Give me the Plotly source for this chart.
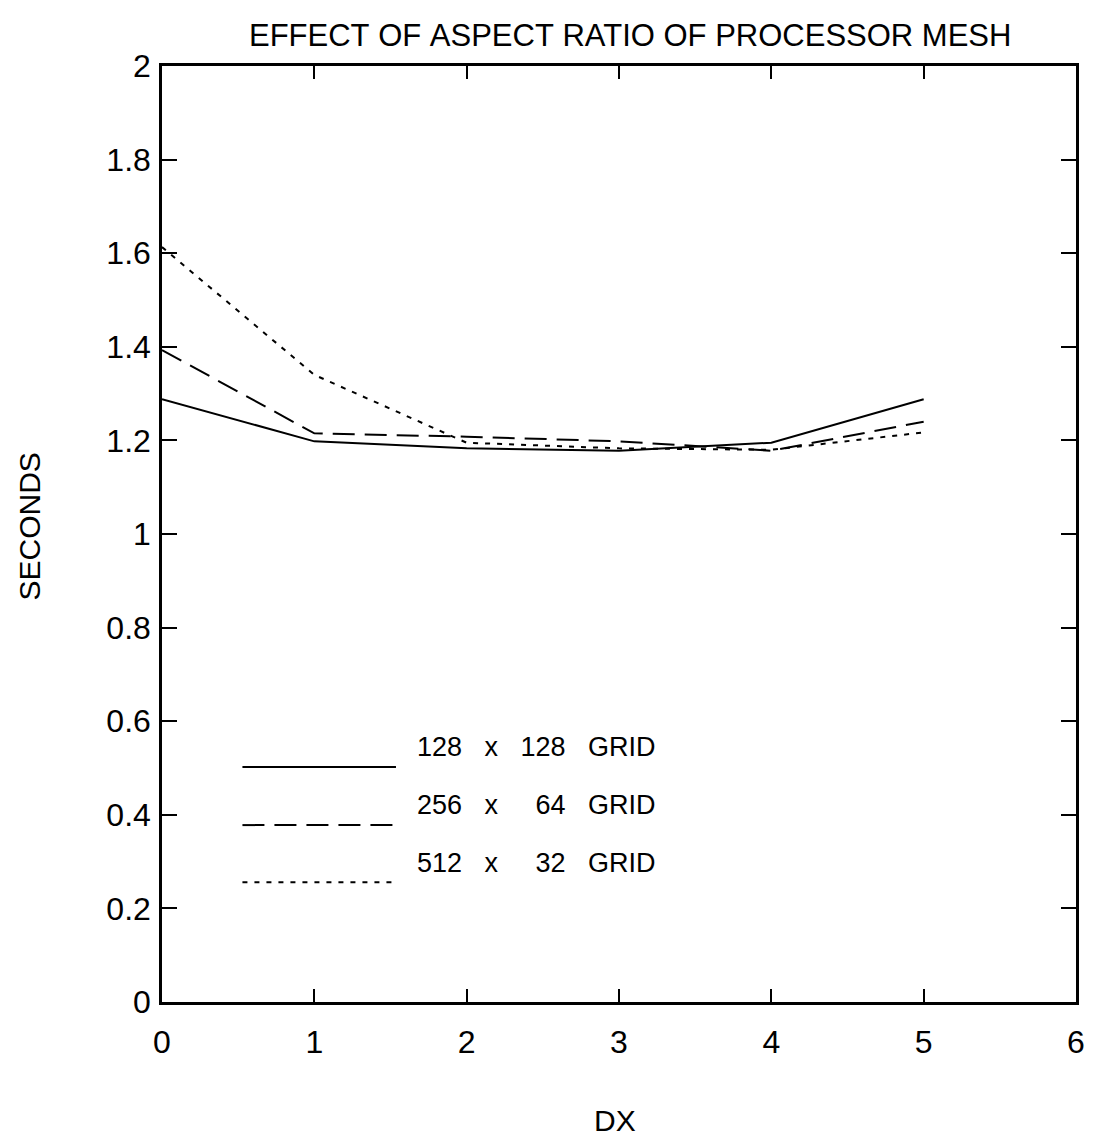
import plotly.graph_objects as go

dx = [0, 1, 2, 3, 4, 5]
grid_128x128 = [1.288, 1.198, 1.183, 1.178, 1.195, 1.288]
grid_256x64 = [1.393, 1.215, 1.208, 1.198, 1.178, 1.240]
grid_512x32 = [1.613, 1.340, 1.195, 1.183, 1.180, 1.217]

S = "\u00a0"
series_names = ["128" + S*3 + "x" + S*3 + "128" + S*3 + "GRID",
                "256" + S*3 + "x" + S*5 + "64" + S*3 + "GRID",
                "512" + S*3 + "x" + S*5 + "32" + S*3 + "GRID"]
series_values = [grid_128x128, grid_256x64, grid_512x32]
dashes = ["solid", "22px,10px", "5px,7px"]

x_ticks = [0, 1, 2, 3, 4, 5, 6]
y_ticks = [0, 0.2, 0.4, 0.6, 0.8, 1.0, 1.2, 1.4, 1.6, 1.8, 2.0]
y_tick_text = ["0", "0.2", "0.4", "0.6", "0.8", "1", "1.2", "1.4", "1.6", "1.8", "2"]

FONT = "Liberation Sans, Arial, sans-serif"

fig = go.Figure()
for name, vals, d in zip(series_names, series_values, dashes):
    fig.add_trace(go.Scatter(x=dx, y=vals, mode="lines", name=name,
                             line=dict(color="black", width=2, dash=d),
                             showlegend=False))

# custom legend (sample lines + labels) in paper coordinates
leg_x0, leg_x1, txt_x = 0.088, 0.256, 0.277
leg_line_y = [0.251, 0.189, 0.128]
leg_txt_y = [0.272, 0.210, 0.149]
shapes = []
annotations = []
for name, d, ly, ty in zip(series_names, dashes, leg_line_y, leg_txt_y):
    shapes.append(dict(type="line", xref="paper", yref="paper",
                       x0=leg_x0, x1=leg_x1, y0=ly, y1=ly,
                       line=dict(color="black", width=2, dash=d)))
    annotations.append(dict(xref="paper", yref="paper", x=txt_x, y=ty,
                            text=name, showarrow=False, xanchor="left",
                            yanchor="middle",
                            font=dict(family=FONT, size=27, color="black")))

title = S.join("EFFECT OF ASPECT RATIO OF PROCESSOR MESH".split(" "))
annotations.append(dict(xref="paper", yref="paper", x=0.512, y=1.0,
                        yshift=31, text=title,
                        showarrow=False, xanchor="center", yanchor="middle",
                        font=dict(family=FONT, size=31, color="black")))
annotations.append(dict(xref="paper", yref="paper", x=0.496, y=0.0,
                        yshift=-118, text="DX", showarrow=False,
                        xanchor="center", yanchor="middle",
                        font=dict(family=FONT, size=30, color="black")))
annotations.append(dict(xref="paper", yref="paper", x=0.0, y=0.508,
                        xshift=-132, text="SECONDS", showarrow=False,
                        textangle=-90, xanchor="center", yanchor="middle",
                        font=dict(family=FONT, size=30, color="black")))

fig.update_layout(
    width=1096, height=1139,
    margin=dict(l=162, r=11, t=66, b=137),
    paper_bgcolor="white", plot_bgcolor="white",
    shapes=shapes, annotations=annotations,
    font=dict(family=FONT, color="black"),
)
fig.update_xaxes(range=[0, 6], tickvals=x_ticks, ticks="inside", ticklen=13,
                 tickwidth=1.5, tickcolor="black", mirror="ticks",
                 showline=True, linecolor="black", linewidth=2.5,
                 showgrid=False, zeroline=False,
                 tickfont=dict(family=FONT, size=32, color="black"),
                 ticklabelstandoff=10)
fig.update_yaxes(range=[0, 2], tickvals=y_ticks, ticktext=y_tick_text,
                 ticks="inside", ticklen=15, tickwidth=1.5, tickcolor="black",
                 mirror="ticks", showline=True, linecolor="black",
                 linewidth=2.5, showgrid=False, zeroline=False,
                 tickfont=dict(family=FONT, size=32, color="black"),
                 ticklabelstandoff=2)

fig.write_html("out.html")
